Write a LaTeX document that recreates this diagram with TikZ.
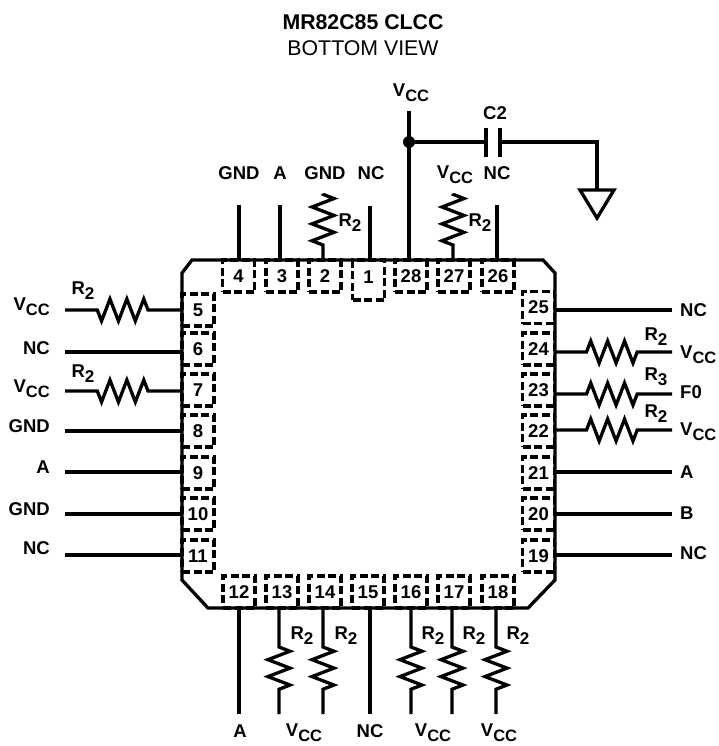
\documentclass[tikz,border=0pt]{standalone}
\usepackage{fontspec}
\setmainfont{Liberation Sans}
\usetikzlibrary{decorations.pathmorphing}
\newcommand{\Vcc}{V\raisebox{-5pt}{\fontsize{16.5}{16.5}\selectfont CC}}
\newcommand{\Rsub}[1]{R\raisebox{-5pt}{\fontsize{17}{17}\selectfont #1}}

\begin{document}
\begin{tikzpicture}[
        x=1pt, y=-1pt,
        lead/.style={line width=3.3pt},
        pinbox/.style={draw, dashed, line width=3.3pt, dash pattern=on 8pt off 3.5pt, minimum width=32pt, minimum height=32pt, inner sep=0pt, outer sep=0pt, font=\fontsize{18.5}{19}\bfseries},
        lbl/.style={inner sep=0pt, font=\fontsize{18.5}{19}\bfseries},
        resistor/.style 2 args={decorate, decoration={zigzag, amplitude=11pt, segment length=16.9pt, pre length=#1, post length=#2}}
      ]
      \useasboundingbox (0,0) rectangle (719,746);

      \node[lbl, font=\fontsize{21.3}{22}\bfseries] (title) at (363,22) {MR82C85 CLCC};
      \node[lbl, font=\fontsize{21.3}{22}\selectfont] (view) at (363,48) {BOTTOM VIEW};

      \draw[line width=3.3pt, line join=miter] (192,260) -- (543,260) -- (555,273) -- (555,580) -- (528,608)
        -- (208,608) -- (182,580) -- (182,273) -- cycle;

      \node[pinbox] (p4) at (238.5,276) {4};
      \node[pinbox] (p3) at (282,276) {3};
      \node[pinbox] (p2) at (325,276) {2};
      \node[pinbox, minimum height=40pt, text depth=6pt] (p1) at (368.5,280) {1};
      \node[pinbox] (p28) at (411,276) {28};
      \node[pinbox] (p27) at (454,276) {27};
      \node[pinbox] (p26) at (498,276) {26};

      \node[pinbox] (p5) at (198,310) {5};
      \node[pinbox] (p6) at (198,349) {6};
      \node[pinbox] (p7) at (198,390) {7};
      \node[pinbox] (p8) at (198,431) {8};
      \node[pinbox] (p9) at (198,473) {9};
      \node[pinbox] (p10) at (198,514) {10};
      \node[pinbox] (p11) at (198,556) {11};

      \node[pinbox] (p12) at (239,592) {12};
      \node[pinbox] (p13) at (282,592) {13};
      \node[pinbox] (p14) at (325,592) {14};
      \node[pinbox] (p15) at (368,592) {15};
      \node[pinbox] (p16) at (411,592) {16};
      \node[pinbox] (p17) at (454,592) {17};
      \node[pinbox] (p18) at (498,592) {18};

      \node[pinbox] (p25) at (538.5,307.5) {25};
      \node[pinbox] (p24) at (538.5,349) {24};
      \node[pinbox] (p23) at (538.5,390) {23};
      \node[pinbox] (p22) at (538.5,431) {22};
      \node[pinbox] (p21) at (538.5,473) {21};
      \node[pinbox] (p20) at (538.5,514) {20};
      \node[pinbox] (p19) at (538.5,556) {19};

      \coordinate (c4) at (239,205);
      \coordinate (c3) at (280,205);
      \coordinate (c2) at (323,193.5);
      \coordinate (c1) at (370,206);
      \coordinate (c28) at (409,111);
      \coordinate (c27) at (453,193.5);
      \coordinate (c26) at (497,205);
      \draw[lead] (c4) -- (c4 |- p4.north);
      \draw[lead] (c3) -- (c3 |- p3.north);
      \draw[lead, resistor={15pt}{0pt}] (c2 |- p2.north) -- (c2);
      \draw[lead] (c1) -- (c1 |- p1.north);
      \draw[lead] (c28) -- (c28 |- p28.north);
      \draw[lead, resistor={15pt}{0pt}] (c27 |- p27.north) -- (c27);
      \draw[lead] (c26) -- (c26 |- p26.north);

      \coordinate (c5) at (65,310);
      \coordinate (c6) at (65,352);
      \coordinate (c7) at (65,391);
      \coordinate (c8) at (65,431);
      \coordinate (c9) at (65,472);
      \coordinate (c10) at (65,514);
      \coordinate (c11) at (65,555);
      \draw[lead, resistor={34pt}{32pt}, decoration={mirror}] (c5 -| p5.west) -- (c5);
      \draw[lead] (c6) -- (c6 -| p6.west);
      \draw[lead, resistor={34pt}{32pt}, decoration={mirror}] (c7 -| p7.west) -- (c7);
      \draw[lead] (c8) -- (c8 -| p8.west);
      \draw[lead] (c9) -- (c9 -| p9.west);
      \draw[lead] (c10) -- (c10 -| p10.west);
      \draw[lead] (c11) -- (c11 -| p11.west);

      \coordinate (c12) at (239,714);
      \coordinate (c13) at (279,714);
      \coordinate (c14) at (323,714);
      \coordinate (c15) at (370,714);
      \coordinate (c16) at (411,714);
      \coordinate (c17) at (452,714);
      \coordinate (c18) at (496,714);
      \draw[lead] (c12) -- (c12 |- p12.south);
      \draw[lead, resistor={39pt}{17pt}] (c13 |- p13.south) -- (c13);
      \draw[lead, resistor={39pt}{17pt}] (c14 |- p14.south) -- (c14);
      \draw[lead] (c15) -- (c15 |- p15.south);
      \draw[lead, resistor={39pt}{17pt}] (c16 |- p16.south) -- (c16);
      \draw[lead, resistor={39pt}{17pt}] (c17 |- p17.south) -- (c17);
      \draw[lead, resistor={39pt}{17pt}] (c18 |- p18.south) -- (c18);

      \coordinate (c25) at (672,310);
      \coordinate (c24) at (672,352);
      \coordinate (c23) at (672,394);
      \coordinate (c22) at (672,430);
      \coordinate (c21) at (672,472);
      \coordinate (c20) at (672,514);
      \coordinate (c19) at (672,555);
      \draw[lead] (c25) -- (c25 -| p25.east);
      \draw[lead, resistor={32pt}{31pt}] (c24 -| p24.east) -- (c24);
      \draw[lead, resistor={32pt}{31pt}] (c23 -| p23.east) -- (c23);
      \draw[lead, resistor={32pt}{31pt}] (c22 -| p22.east) -- (c22);
      \draw[lead] (c21) -- (c21 -| p21.east);
      \draw[lead] (c20) -- (c20 -| p20.east);
      \draw[lead] (c19) -- (c19 -| p19.east);

      \node[circle, fill, inner sep=0pt, minimum size=12pt] (dot) at (409,142) {};
      \coordinate (capa) at (486,142);
      \coordinate (capb) at (500,142);
      \coordinate (gnd) at (597,190);
      \draw[lead] (dot) -- (capa);
      \draw[lead] (capa |- 0,128) -- (capa |- 0,157);
      \draw[lead] (capb |- 0,128) -- (capb |- 0,157);
      \draw[lead] (capb) -| (gnd);
      \draw[lead] (580,190) -- (614,190) -- (597,218) -- cycle;

      \node[lbl] (t1) at (239,173) {GND};
      \node[lbl] (t2) at (280,173) {A};
      \node[lbl] (t3) at (325,173) {GND};
      \node[lbl] (t4) at (371,173) {NC};
      \node[lbl] (t5) at (411,93) {\Vcc};
      \node[lbl] (t6) at (455,175) {\Vcc};
      \node[lbl] (t7) at (497,173) {NC};
      \node[lbl] (cap) at (495,113) {C2};
      \node[lbl] (r1) at (350,223) {\Rsub{2}};
      \node[lbl] (r2) at (480,223) {\Rsub{2}};

      \node[lbl, anchor=east] (l1) at (50,307) {\Vcc};
      \node[lbl, anchor=east] (l2) at (50,348) {NC};
      \node[lbl, anchor=east] (l3) at (50,389) {\Vcc};
      \node[lbl, anchor=east] (l4) at (50,426) {GND};
      \node[lbl, anchor=east] (l5) at (50,467) {A};
      \node[lbl, anchor=east] (l6) at (50,509) {GND};
      \node[lbl, anchor=east] (l7) at (50,548) {NC};
      \node[lbl] (r3) at (83,291) {\Rsub{2}};
      \node[lbl] (r4) at (83,374) {\Rsub{2}};

      \node[lbl, anchor=west] (e1) at (680,310) {NC};
      \node[lbl, anchor=west] (e2) at (680,355) {\Vcc};
      \node[lbl, anchor=west] (e3) at (680,392) {F0};
      \node[lbl, anchor=west] (e4) at (680,432) {\Vcc};
      \node[lbl, anchor=west] (e5) at (680,472) {A};
      \node[lbl, anchor=west] (e6) at (680,513) {B};
      \node[lbl, anchor=west] (e7) at (680,553) {NC};
      \node[lbl] (r5) at (656,337) {\Rsub{2}};
      \node[lbl] (r6) at (656,377) {\Rsub{3}};
      \node[lbl] (r7) at (656,414) {\Rsub{2}};

      \node[lbl] (b1) at (240,731) {A};
      \node[lbl] (b2) at (304,733) {\Vcc};
      \node[lbl] (b3) at (370,731) {NC};
      \node[lbl] (b4) at (433,733) {\Vcc};
      \node[lbl] (b5) at (499,733) {\Vcc};
      \node[lbl] (r8) at (302,636) {\Rsub{2}};
      \node[lbl] (r9) at (346,636) {\Rsub{2}};
      \node[lbl] (r10) at (433,636) {\Rsub{2}};
      \node[lbl] (r11) at (474,636) {\Rsub{2}};
      \node[lbl] (r12) at (518,636) {\Rsub{2}};

    \end{tikzpicture}
\end{document}
